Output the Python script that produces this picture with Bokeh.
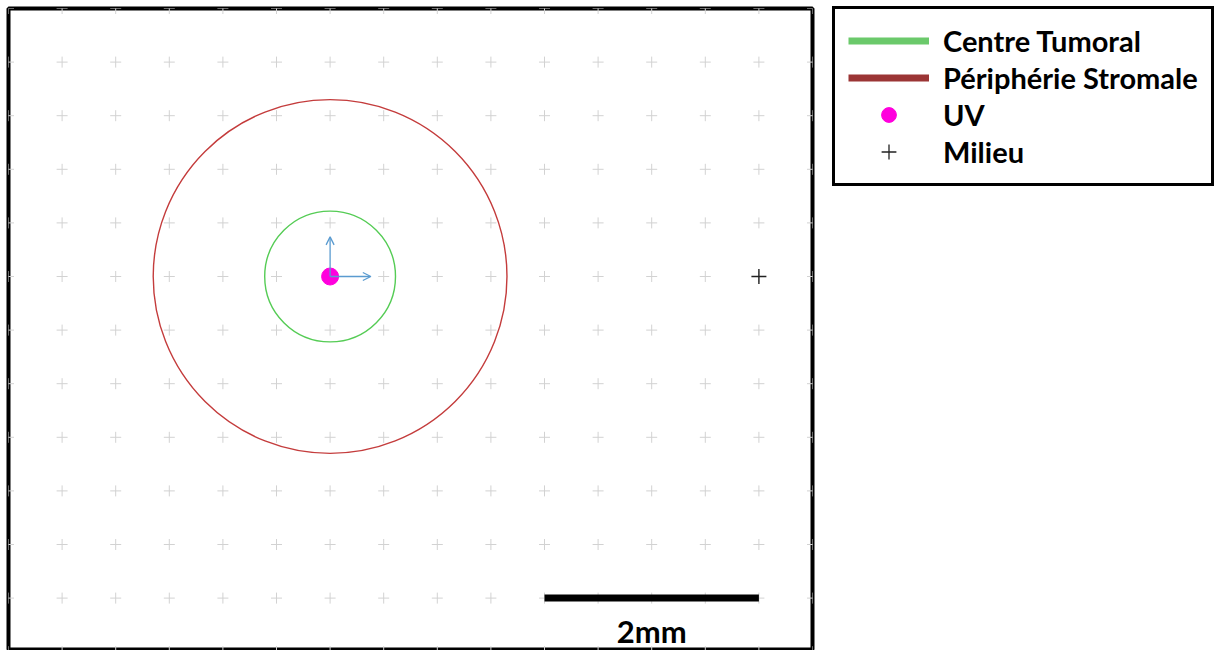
from bokeh.plotting import figure
from bokeh.models import Range1d, Legend, LegendItem, Arrow, OpenHead
from bokeh.core.properties import value
from bokeh.embed import file_html
from bokeh.resources import INLINE

# ---- data (mm) ----
grid_x = [-3.0, -2.5, -2.0, -1.5, -1.0, -0.5, 0.0, 0.5, 1.0, 1.5, 2.0, 2.5, 3.0, 3.5, 4.0, 4.5]
grid_y = [-3.5, -3.0, -2.5, -2.0, -1.5, -1.0, -0.5, 0.0, 0.5, 1.0, 1.5, 2.0, 2.5]
uv_x = [0.0]
uv_y = [0.0]
centre_radius = [0.61]
stroma_radius = [1.65]
milieu_x = [4.0]
milieu_y = [0.0]
axis_len_x = 0.38
axis_len_y = 0.37
scale_start = [2.0]
scale_end = [4.0]
scale_y = [-3.0]
scale_label = ["2mm"]
legend_labels = ["Centre Tumoral", "Périphérie Stromale", "UV", "Milieu"]

NAN = float("nan")
FONT = "Lato"
PX_PER_MM = 107.2
FRAME_W = 804
FRAME_H = 642
x0 = -3.0
y1 = 2.5

p = figure(frame_width=FRAME_W, frame_height=FRAME_H,
           x_range=Range1d(x0, x0 + FRAME_W / PX_PER_MM),
           y_range=Range1d(y1 - FRAME_H / PX_PER_MM, y1),
           x_axis_location=None, y_axis_location=None,
           output_backend="svg", toolbar_location=None,
           min_border_left=8, min_border_top=8, min_border_bottom=0, min_border_right=0)
p.xgrid.visible = False
p.ygrid.visible = False
p.outline_line_color = "black"
p.outline_line_width = 4
p.outline_line_alpha = 1
p.background_fill_color = "white"
p.border_fill_color = "white"

gx = [x for y in grid_y for x in grid_x]
gy = [y for y in grid_y for x in grid_x]
p.scatter(gx, gy, marker="cross", size=11, line_color="#d2d2d2", line_width=1)

# circles
p.circle(x=uv_x, y=uv_y, radius=stroma_radius, fill_alpha=0, line_color="#c43c3c", line_width=1.4)
p.circle(x=uv_x, y=uv_y, radius=centre_radius, fill_alpha=0, line_color="#55cc55", line_width=1.4)

# local axes arrows
AC = "#5a9bd0"
p.add_layout(Arrow(x_start=uv_x[0], y_start=uv_y[0], x_end=uv_x[0] + axis_len_x, y_end=uv_y[0],
                   line_color=AC, line_width=1.3,
                   end=OpenHead(size=8, line_color=AC, line_width=1.3)))
p.add_layout(Arrow(x_start=uv_x[0], y_start=uv_y[0], x_end=uv_x[0], y_end=uv_y[0] + axis_len_y,
                   line_color=AC, line_width=1.3,
                   end=OpenHead(size=8, line_color=AC, line_width=1.3)))

uv = p.scatter(uv_x, uv_y, marker="circle", size=17, fill_color="#ff00dd", line_color="#ff00dd")
mil = p.scatter(milieu_x, milieu_y, marker="cross", size=15, line_color="#222222", line_width=1.4)

# scale bar
p.segment(x0=scale_start, y0=scale_y, x1=scale_end, y1=scale_y, line_color="black", line_width=7, line_cap="butt")
p.text(x=[(scale_start[0] + scale_end[0]) / 2], y=[scale_y[0] - 0.31], text=scale_label,
       text_font=value(FONT), text_font_style="bold", text_font_size="31px",
       text_align="center", text_baseline="middle", text_color="black")

# legend proxy renderers (no visible marks in the plot)
lg_green = p.line([NAN, NAN], [NAN, NAN], line_color="#6bc96b", line_width=7)
lg_red = p.line([NAN, NAN], [NAN, NAN], line_color="#9b3535", line_width=7)
uv_leg = p.scatter([NAN], [NAN], marker="circle", size=18, fill_color="#ff00dd", line_color="#ff00dd")
mil_leg = p.scatter([NAN], [NAN], marker="cross", size=24, line_color="#222222", line_width=1.3)

PAD = 13
ROW_H = 37
SPACING = 0
leg_h = 2 * PAD + 4 * ROW_H + 3 * SPACING
legend = Legend(items=[LegendItem(label=legend_labels[0], renderers=[lg_green]),
                       LegendItem(label=legend_labels[1], renderers=[lg_red]),
                       LegendItem(label=legend_labels[2], renderers=[uv_leg]),
                       LegendItem(label=legend_labels[3], renderers=[mil_leg])],
                location=(20, FRAME_H - leg_h - 4), margin=0, padding=PAD, spacing=SPACING,
                glyph_width=81, glyph_height=ROW_H, label_standoff=14, label_height=ROW_H,
                label_text_font=FONT, label_text_font_style="bold", label_text_font_size="29px",
                label_text_color="black",
                border_line_color="black", border_line_width=3, border_line_alpha=1,
                background_fill_alpha=1)
p.add_layout(legend, "right")
p.min_border_right = 30

open("out.html", "w").write(file_html(p, INLINE))
